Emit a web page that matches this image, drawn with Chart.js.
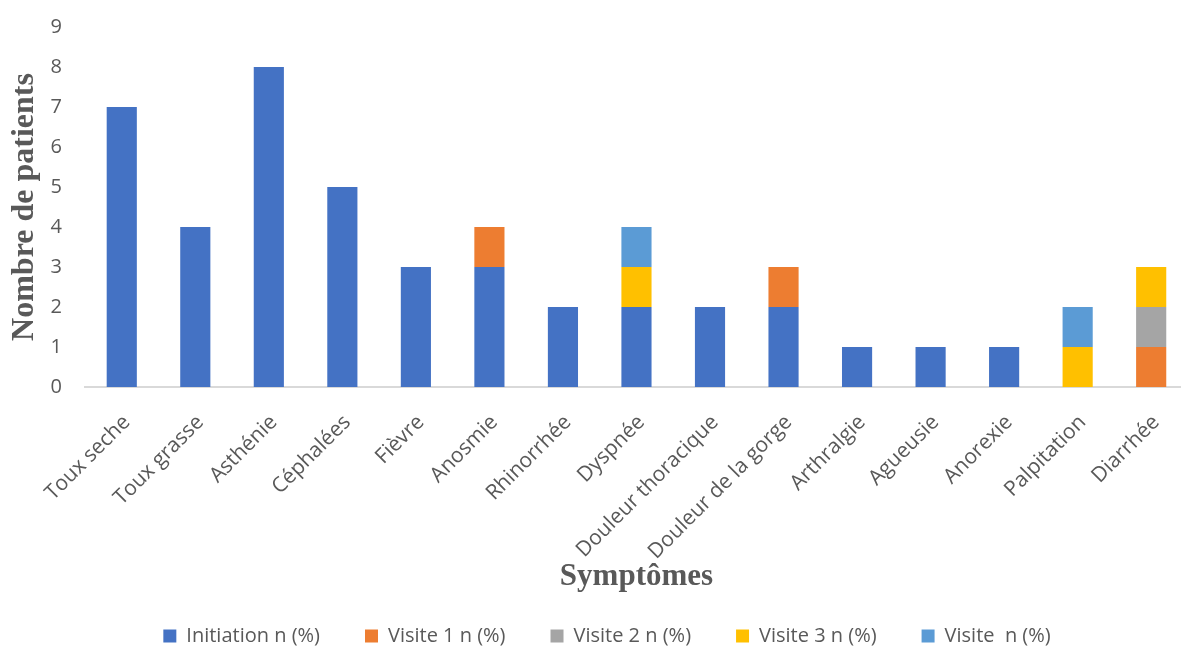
<!DOCTYPE html>
<html>
<head>
<meta charset="utf-8">
<script src="https://cdn.jsdelivr.net/npm/chart.js@4.4.1/dist/chart.umd.min.js"></script>
<style>
  html, body { margin: 0; padding: 0; overflow: hidden; background: #ffffff; }
  #wrap { width: 1192px; height: 646px; }
</style>
</head>
<body>
<div id="wrap"><canvas id="chart" width="1192" height="646"></canvas></div>
<script>
// Symptom categories along the x axis
const categories = [
  'Toux seche', 'Toux grasse', 'Asthénie', 'Céphalées', 'Fièvre', 'Anosmie',
  'Rhinorrhée', 'Dyspnée', 'Douleur thoracique', 'Douleur de la gorge',
  'Arthralgie', 'Agueusie', 'Anorexie', 'Palpitation', 'Diarrhée'
];

// Patient counts per visit (stacked)
const initiation = [7, 4, 8, 5, 3, 3, 2, 2, 2, 2, 1, 1, 1, 0, 0];
const visite1    = [0, 0, 0, 0, 0, 1, 0, 0, 0, 1, 0, 0, 0, 0, 1];
const visite2    = [0, 0, 0, 0, 0, 0, 0, 0, 0, 0, 0, 0, 0, 0, 1];
const visite3    = [0, 0, 0, 0, 0, 0, 0, 1, 0, 0, 0, 0, 0, 1, 1];
const visite     = [0, 0, 0, 0, 0, 0, 0, 1, 0, 0, 0, 0, 0, 1, 0];

// Series names shown in the legend
const seriesNames = ['Initiation n (%)', 'Visite 1 n (%)', 'Visite 2 n (%)', 'Visite 3 n (%)', 'Visite  n (%)'];

// Y axis range
const yMin = 0;
const yMax = 9;
const yStep = 1;

const colors = ['#4472C4', '#ED7D31', '#A5A5A5', '#FFC000', '#5B9BD5'];
const seriesValues = [initiation, visite1, visite2, visite3, visite];

const textGray = '#595959';
const PLOT_BOTTOM = 387;
const LEGEND_HEIGHT = 47;

// Fixed legend height; the legend row is then nudged toward the bottom edge
const legendBox = {
  id: 'legendBox',
  beforeLayout(chart) {
    const lg = chart.legend;
    if (lg && !lg.__fixedFit) {
      const fit = lg.fit;
      lg.fit = function () { fit.call(this); this.height = LEGEND_HEIGHT; };
      lg.__fixedFit = true;
    }
  },
  afterLayout(chart) {
    const lg = chart.legend;
    if (!lg) return;
    lg.top -= 18;
    lg.bottom = chart.height;
    lg.left += 11; lg.right += 11;
  }
};

new Chart(document.getElementById('chart'), {
  type: 'bar',
  data: {
    labels: categories,
    datasets: seriesValues.map((vals, i) => ({
      label: seriesNames[i],
      data: vals,
      backgroundColor: colors[i],
      borderWidth: 0,
      categoryPercentage: 1,
      barPercentage: 0.41
    }))
  },
  options: {
    responsive: false,
    animation: false,
    layout: { padding: { top: 27, right: 0, left: 0, bottom: 0 } },
    plugins: {
      tooltip: { enabled: false },
      legend: {
        position: 'bottom',
        labels: {
          color: textGray,
          font: { family: '"Open Sans", sans-serif', size: 20 },
          boxWidth: 13,
          boxHeight: 13,
          padding: 45
        }
      }
    },
    scales: {
      x: {
        stacked: true,
        grid: { display: true, color: 'rgba(0,0,0,0)', drawTicks: false },
        border: { display: true, color: '#D9D9D9', width: 2 },
        ticks: {
          color: textGray,
          font: { family: '"Open Sans", sans-serif', size: 21 },
          maxRotation: 45,
          minRotation: 45,
          autoSkip: false,
          labelOffset: 5,
          padding: 23
        },
        title: {
          display: true,
          text: 'Symptômes',
          color: textGray,
          font: { family: '"Liberation Serif", "Times New Roman", serif', size: 31, weight: 'bold' },
          padding: { top: 0, bottom: 3 }
        },
        afterFit(scale) {
          scale.height = scale.chart.height - PLOT_BOTTOM - LEGEND_HEIGHT;
        }
      },
      y: {
        stacked: true,
        min: yMin,
        max: yMax,
        grid: { display: false, drawTicks: false },
        border: { display: false },
        ticks: {
          stepSize: yStep,
          color: textGray,
          font: { family: '"Open Sans", sans-serif', size: 20 },
          padding: 23
        },
        title: {
          display: true,
          text: 'Nombre de patients',
          color: textGray,
          font: { family: '"Liberation Serif", "Times New Roman", serif', size: 32, weight: 'bold' },
          padding: { top: 6, bottom: 0 }
        },
        afterFit(scale) {
          scale.width = 85;
          scale.paddingTop = 0;
          scale.paddingBottom = 0;
        }
      }
    }
  },
  plugins: [legendBox]
});
</script>
</body>
</html>
